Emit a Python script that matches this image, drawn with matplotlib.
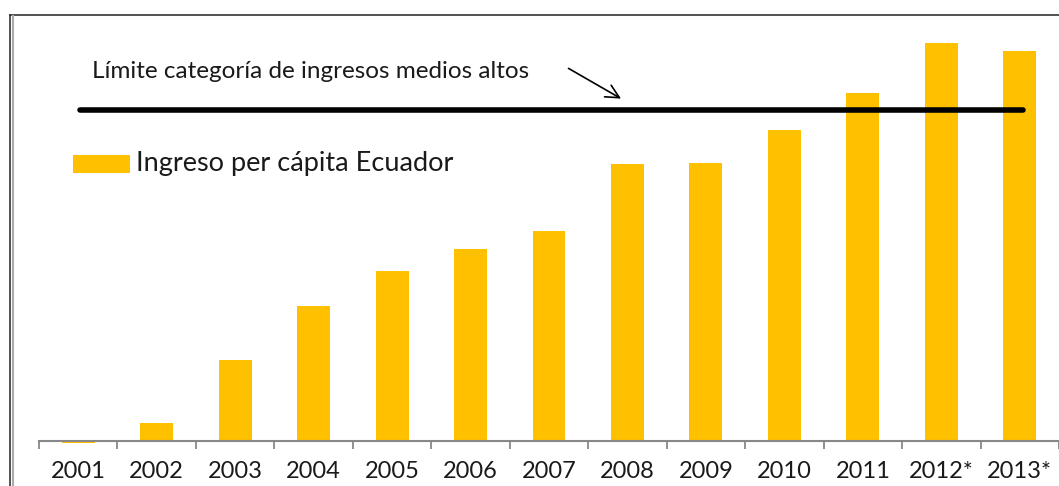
import matplotlib.pyplot as plt
from matplotlib.lines import Line2D
import numpy as np

years = ['2001', '2002', '2003', '2004', '2005', '2006', '2007',
         '2008', '2009', '2010', '2011', '2012*', '2013*']
# ingreso per capita (escala, sin eje numerico)
ingreso = [-2, 18, 81, 135, 170, 192, 210, 277, 278, 311, 348, 398, 390]
limite = 331
label_limite = 'Límite categoría de ingresos medios altos'
label_serie = 'Ingreso per cápita Ecuador'

W, H = 1059, 486
fig = plt.figure(figsize=(W / 100, H / 100), dpi=100)
plt.rcParams['font.family'] = ['Lato', 'DejaVu Sans']


def px(xp):
    # pixel column -> data x
    return (xp - 39) / 78 - 0.5


# axes: baseline at y=441px, from x=39px to the right edge
ax = fig.add_axes([39 / W, 1 - 441 / H, (W - 39) / W, (441 - 15) / H])
x = np.arange(len(years))
bars = ax.bar(x, ingreso, width=0.42, color='#FFC000', zorder=2)
bars[0].set_clip_on(False)

ax.set_xlim(-0.5, len(years) - 0.5)
ax.set_ylim(0, 426)
for s in ['top', 'right', 'left']:
    ax.spines[s].set_visible(False)
ax.spines['bottom'].set_color('#888888')
ax.spines['bottom'].set_linewidth(1.5)
ax.set_yticks([])
ax.set_xticks(np.arange(len(years) + 1) - 0.5)
ax.set_xticklabels([])
ax.tick_params(axis='x', length=6, width=1.3, color='#888888')
for i, y in enumerate(years):
    ax.text(i, -30, y, ha='center', va='center', fontsize=17, color='#1a1a1a')

# limit line
ax.plot([px(80), px(1017)], [limite, limite],
        color='black', lw=4, solid_capstyle='round', zorder=3, clip_on=False)
ax.text(px(92), 441 - 72, label_limite, ha='left', va='center',
        fontsize=17.5, color='#1a1a1a')
ax.annotate('', xy=(px(620), 441 - 100), xytext=(px(563), 441 - 67),
            arrowprops=dict(arrowstyle='->', color='black', lw=1.2,
                            mutation_scale=24))

# legend
ax.bar([px(101)], [18], bottom=441 - 173, width=57 / 78, color='#FFC000')
ax.text(px(135), 441 - 164, label_serie, ha='left', va='center',
        fontsize=19.5, color='#1a1a1a')

# outer frame
fig.add_artist(Line2D([10 / W, 1], [1 - 15 / H, 1 - 15 / H], color='#333333', lw=1.2))
fig.add_artist(Line2D([10 / W, 10 / W], [0, 1 - 15 / H], color='#333333', lw=1.2))
fig.add_artist(Line2D([13 / W, 13 / W], [0, 1 - 16 / H], color='#aaaaaa', lw=1.5))

fig.savefig('out.png', dpi=100)
